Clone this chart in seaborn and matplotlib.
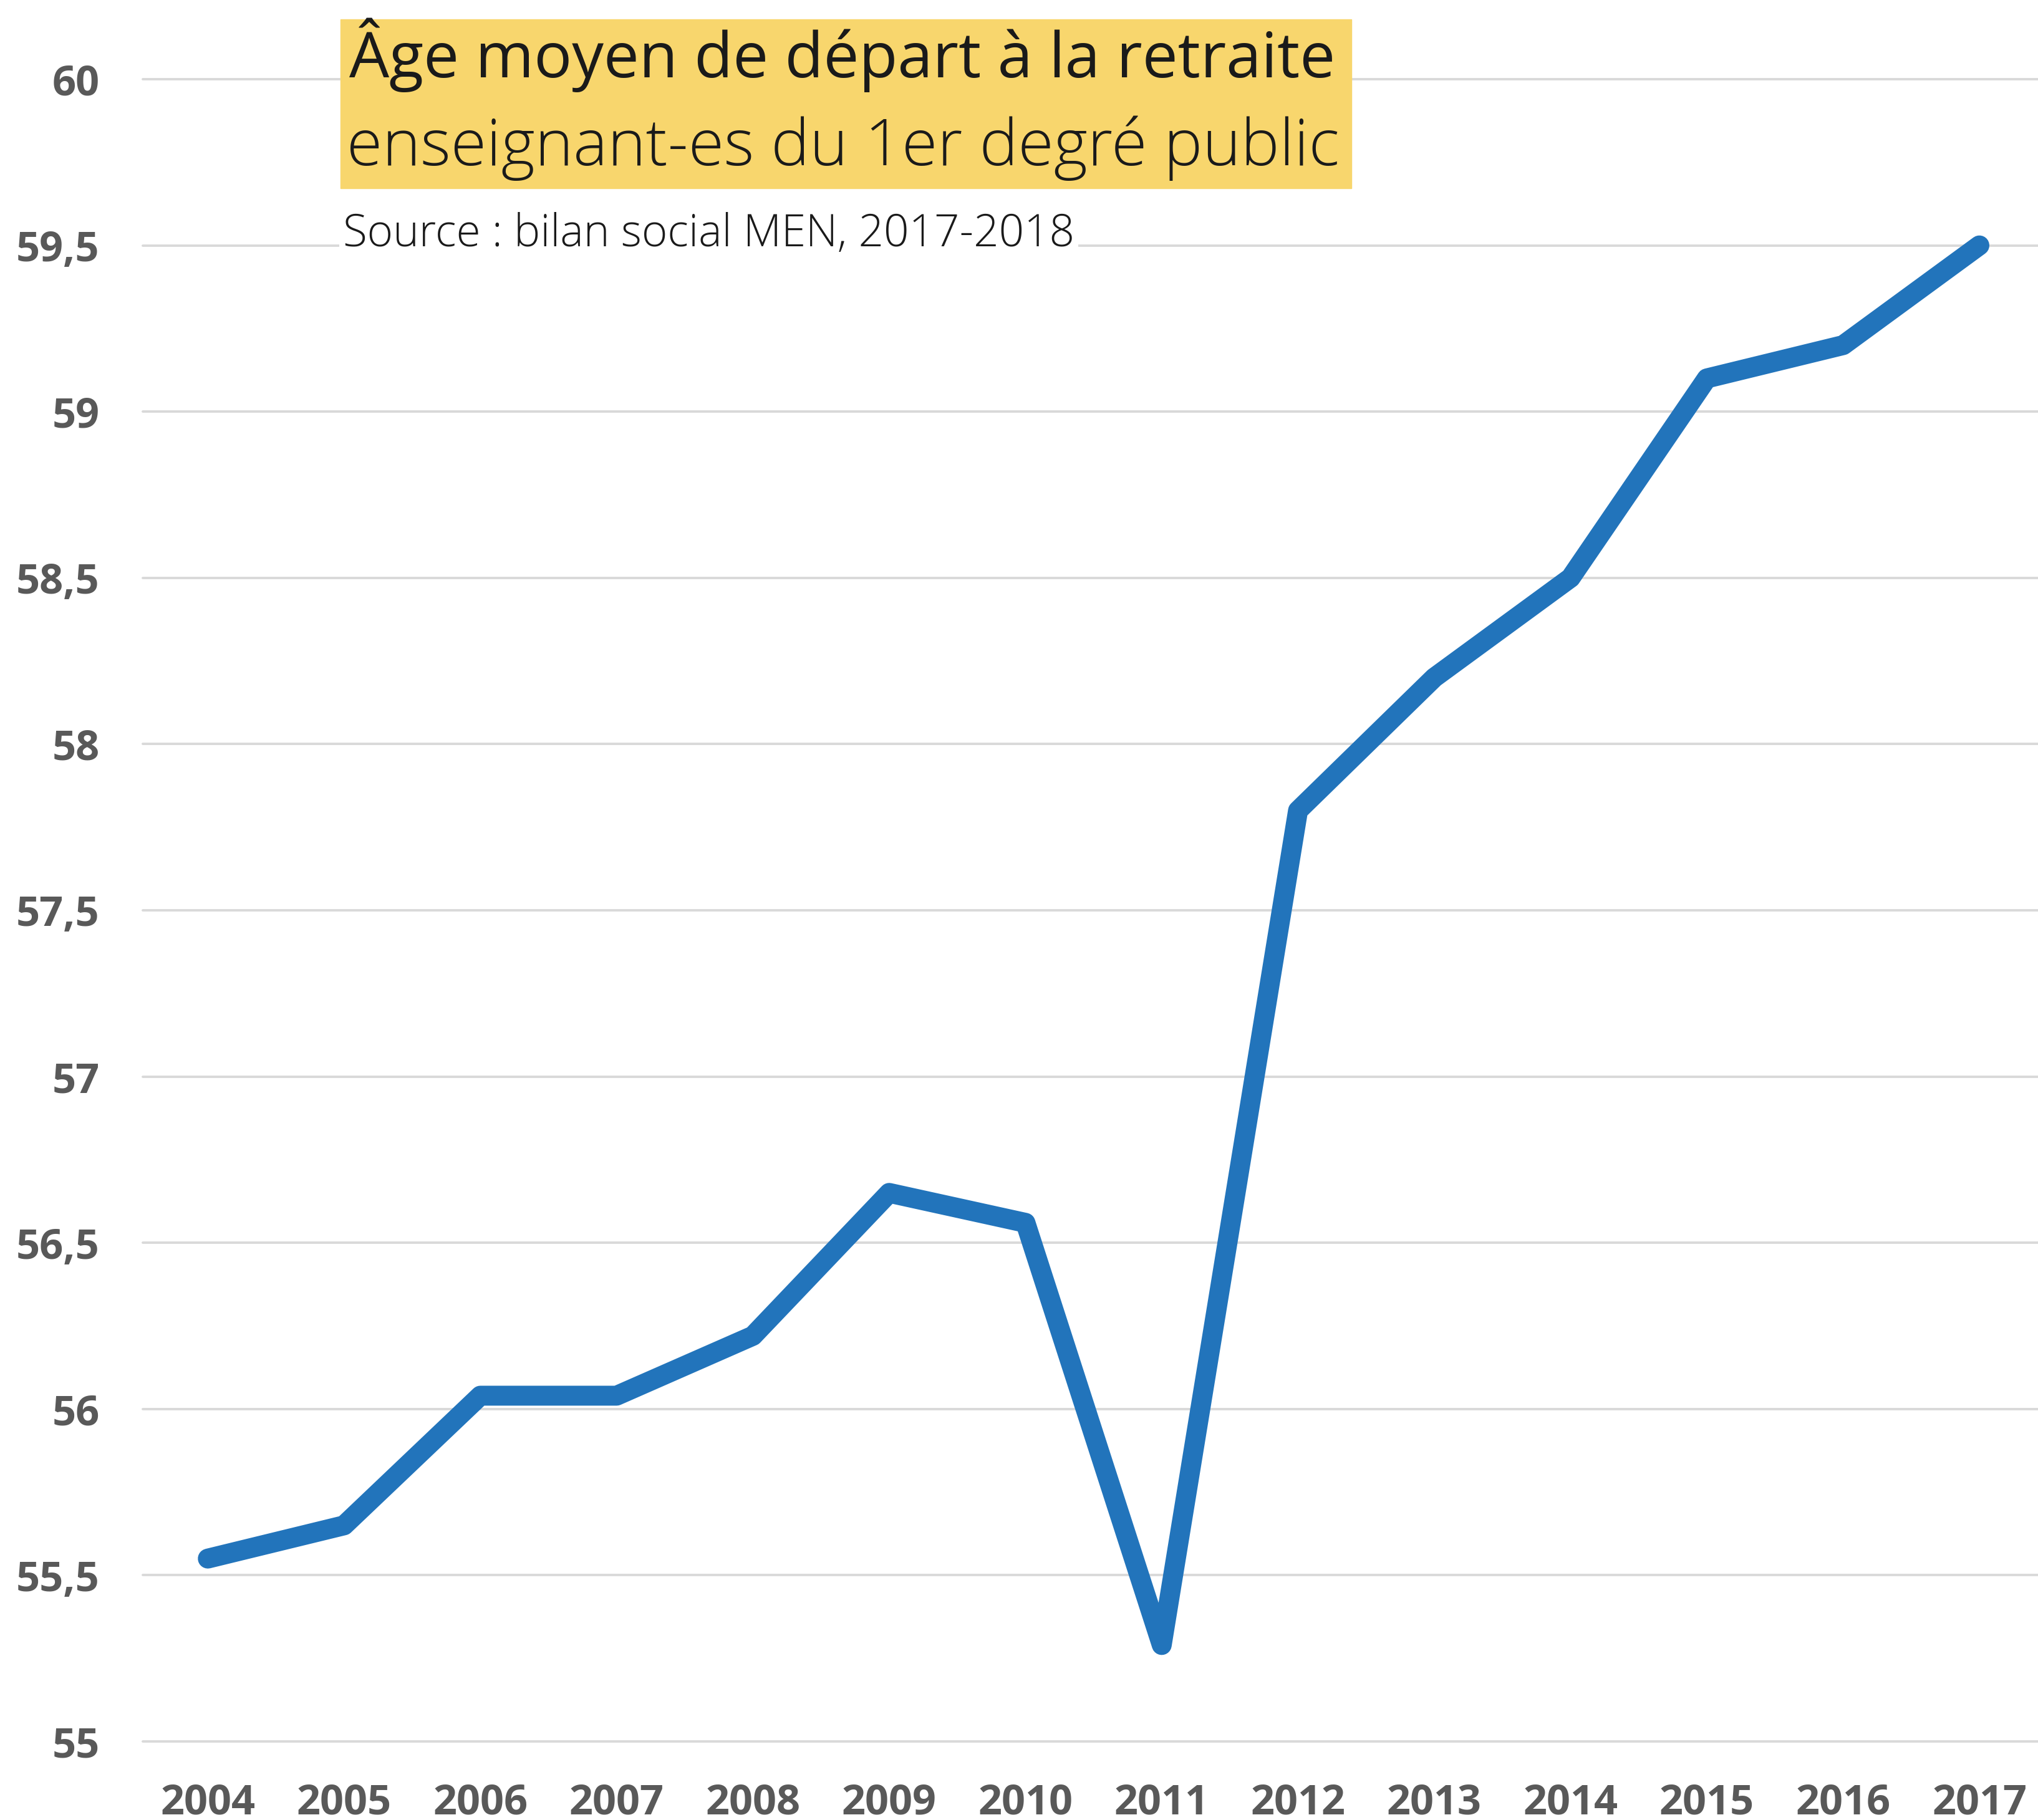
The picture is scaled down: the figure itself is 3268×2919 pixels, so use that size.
import matplotlib
matplotlib.use("Agg")
import matplotlib.pyplot as plt
from matplotlib.patches import Rectangle
import seaborn as sns
import pandas as pd

# données
annees = ["2004", "2005", "2006", "2007", "2008", "2009", "2010",
          "2011", "2012", "2013", "2014", "2015", "2016", "2017"]
age_moyen = [55.55, 55.65, 56.04, 56.04, 56.22, 56.65, 56.56,
             55.29, 57.80, 58.20, 58.50, 59.10, 59.20, 59.50]
yticks = [55, 55.5, 56, 56.5, 57, 57.5, 58, 58.5, 59, 59.5, 60]
ytick_labels = ["55", "55,5", "56", "56,5", "57", "57,5", "58", "58,5", "59", "59,5", "60"]

titre = "Âge moyen de départ à la retraite"
sous_titre = "enseignant-es du 1er degré public"
source = "Source : bilan social MEN, 2017-2018"

df = pd.DataFrame({"pos": range(len(annees)), "age": age_moyen})

sns.set_style("white")
plt.rcParams["font.family"] = ["Open Sans", "DejaVu Sans"]

W, H = 3268, 2919
fig = plt.figure(figsize=(W / 100, H / 100), dpi=100)
ax = fig.add_axes([229 / W, 1 - 2793 / H, 1 - 229 / W, (2793 - 127) / H])

for y in yticks:
    ax.axhline(y, color="#d9d9d9", lw=2.8, zorder=0)

sns.lineplot(data=df, x="pos", y="age", ax=ax, color="#2274bb", lw=23,
             solid_capstyle="round", solid_joinstyle="round", zorder=3)
for l in ax.lines:
    l.set_clip_on(False)

ax.set_xlim(-0.477, len(annees) - 0.57)
ax.set_ylim(55, 60)
ax.set_xticks(range(len(annees)))
ax.set_xticklabels(annees)
ax.set_yticks(yticks)
ax.set_yticklabels(ytick_labels)
ax.tick_params(axis="both", length=0, labelsize=48, labelcolor="#595959")
ax.tick_params(axis="y", pad=50)
ax.tick_params(axis="x", pad=47)
for t in ax.get_xticklabels() + ax.get_yticklabels():
    t.set_fontweight("bold")
ax.set_xlabel("")
ax.set_ylabel("")
sns.despine(ax=ax, left=True, bottom=True)

# cadre jaune du titre
fig.patches.append(Rectangle((546 / W, 1 - 302 / H), (2167 - 546) / W, (302 - 31) / H,
                             transform=fig.transFigure, color="#f8d66d", zorder=5))
fig.text(560 / W, 1 - 88 / H, titre, fontsize=73, color="#1a1a1a",
         va="center", ha="left", zorder=6)
fig.text(556 / W, 1 - 238 / H, sous_titre, fontsize=75, color="#1a1a1a",
         fontweight="light", va="center", ha="left", zorder=6)
fig.text(550 / W, 1 - 376 / H, source, fontsize=51, color="#1a1a1a",
         fontweight="light", va="center", ha="left", zorder=6,
         bbox=dict(facecolor="white", edgecolor="none", pad=4))

plt.savefig("out.png", dpi=100)
